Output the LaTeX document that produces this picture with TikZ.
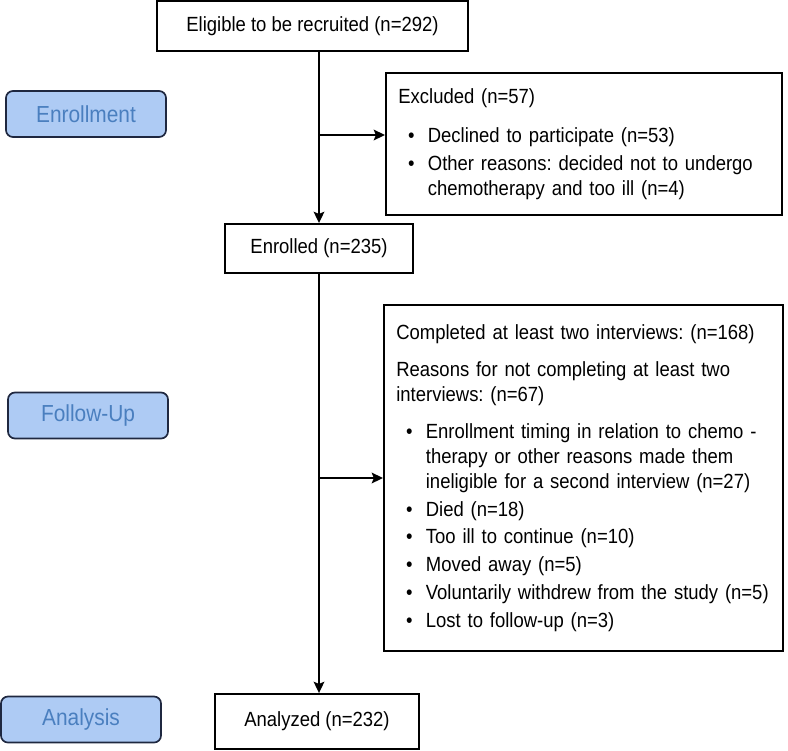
\documentclass[tikz,border=0pt]{standalone}
\usepackage{fontspec}
\setmainfont{Liberation Sans}[FakeStretch=0.9]
\usetikzlibrary{positioning, arrows.meta}

\definecolor{stagefill}{HTML}{AECBF4}
\definecolor{stagetext}{HTML}{4A7FBF}
\definecolor{stageline}{HTML}{1F2840}

\newlength{\bulw}
\setlength{\bulw}{21pt}
\newcommand{\bul}{\makebox[\bulw][l]{\hspace{7pt}\textbullet}}
\newcommand{\bulsp}{\hspace*{\bulw}}
\frenchspacing

\tikzset{
  flowbox/.style={draw, line width=1.3pt, align=center, inner sep=0pt,
    font=\fontsize{14.6}{17.7}\selectfont},
  listbox/.style={draw, line width=1.3pt, align=left, inner xsep=0.31cm, inner ysep=0pt,
    font=\fontsize{14.6}{17.7}\selectfont},
  stage/.style={draw=stageline, line width=1.2pt, fill=stagefill, rounded corners=5pt,
    minimum width=4cm, minimum height=1.15cm, text=stagetext,
    font=\fontsize{16.5}{19}\selectfont},
  flow/.style={->, line width=1.6pt}
}

\begin{document}
\begin{tikzpicture}[x=0.025cm, y=-0.025cm, >={Stealth[length=8pt, width=7.5pt, inset=1.5pt]}]
\useasboundingbox (0,0) rectangle (788,750);

% stage labels on the left
\node[stage] (enrollment) at (86,114) {Enrollment};
\node[stage] (followup) at (88,415.5) {Follow-Up};
\node[stage] (analysis) at (81,719.5) {Analysis};

% main column
\node[flowbox, minimum width=7.775cm, minimum height=1.25cm] (eligible) at (312.5,26) {Eligible to be recruited (n=292)};
\node[flowbox, minimum width=4.7cm, minimum height=1.225cm] (enrolled) at (319,248.5) {Enrolled (n=235)};
\node[flowbox, minimum width=5.1cm, minimum height=1.375cm] (analyzed) at (317,721.5) {Analyzed (n=232)};

% side boxes
\node[listbox, text width=9.28cm, minimum height=3.55cm] (excluded) at (584,144) {Excluded (n=57)\\[10pt]
\bul Declined to participate (n=53)\\[2pt]
\bul Other reasons: decided not to undergo\\
\bulsp chemotherapy and too ill (n=4)};

\node[listbox, text width=9.355cm, minimum height=8.65cm] (completed) at (583.5,478) {Completed at least two interviews: (n=168)\\[8.5pt]
Reasons for not completing at least two\\
interviews: (n=67)\\[9pt]
\bul Enrollment timing in relation to chemo -\\
\bulsp therapy or other reasons made them\\
\bulsp ineligible for a second interview (n=27)\\[2pt]
\bul Died (n=18)\\[2pt]
\bul Too ill to continue (n=10)\\[2pt]
\bul Moved away (n=5)\\[2pt]
\bul Voluntarily withdrew from the study (n=5)\\[2pt]
\bul Lost to follow-up (n=3)};

% connectors
\coordinate (exclsplit) at (319,135);
\draw[flow] (enrolled.north |- eligible.south) -- (enrolled.north);
\draw[flow] (exclsplit) -- (exclsplit -| excluded.west);
\draw[flow] (enrolled.south) -- (enrolled.south |- analyzed.north);
\draw[flow] (enrolled.south |- completed.west) -- (completed.west);
\end{tikzpicture}
\end{document}
